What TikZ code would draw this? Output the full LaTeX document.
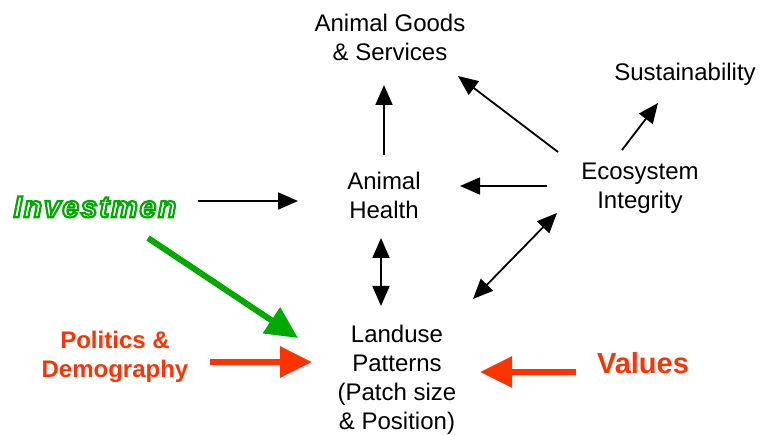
\documentclass[tikz,border=0pt]{standalone}
\usepackage{fontspec}
\setmainfont{Liberation Sans}
\usetikzlibrary{arrows.meta}
\definecolor{myred}{RGB}{255,51,0}
\definecolor{mygreen}{RGB}{0,170,0}
\newcommand{\outlinetext}[1]{\special{pdf:literal direct 1 Tr 2.2 w}#1\special{pdf:literal direct 0 Tr}}
\tikzset{
  lbl/.style={align=center, inner sep=0pt, font=\fontsize{24}{29}\selectfont},
  redlbl/.style={align=center, inner sep=0pt, text=myred, font=\bfseries\fontsize{24}{29}\selectfont},
  arr/.style={line width=1.8pt, -{Triangle[length=20pt,width=17pt]}},
  dbl/.style={line width=1.8pt, {Triangle[length=20pt,width=17pt]}-{Triangle[length=20pt,width=17pt]}},
  greenarr/.style={line width=6pt, draw=mygreen, -{Triangle[length=32pt,width=30pt,fill=mygreen]}},
  redarr/.style={line width=6pt, draw=myred, -{Triangle[length=32pt,width=30pt,fill=myred]}}
}
\begin{document}
\begin{tikzpicture}[x=1pt,y=-1pt]
\useasboundingbox (0,0) rectangle (760,435);
\node[lbl] (goods) at (390,37) {Animal Goods\\\& Services};
\node[lbl] (sust) at (685,74) {Sustainability};
\node[lbl] (health) at (384,195) {Animal\\Health};
\node[lbl] (eco) at (640,188) {Ecosystem\\Integrity};
\node[lbl] (land) at (397,380) {Landuse\\Patterns\\(Patch size\\\& Position)};
\node[redlbl] (pol) at (115,357) {Politics \&\\Demography};
\node[redlbl, font=\bfseries\fontsize{29}{34}\selectfont] (val) at (643,363) {Values};
\node[inner sep=0pt, text=mygreen, font=\bfseries\itshape\fontsize{30}{35}\selectfont\addfontfeatures{LetterSpace=6}] (inv) at (95,207) {\outlinetext{Investmen}};
% black arrows
\draw[arr] ([shift={(0,-40)}]health.center) -- ([shift={(-6,48)}]goods.center);
\draw[arr] ([shift={(-82,-36)}]eco.center) -- ([shift={(68,39)}]goods.center);
\draw[arr] ([shift={(-18,-38)}]eco.center) -- ([shift={(-27,29)}]sust.center);
\draw[arr] ([shift={(-93,-2)}]eco.center) -- ([shift={(76,-9)}]health.center);
\draw[arr] ([shift={(103,-6)}]inv.center) -- ([shift={(-86,6)}]health.center);
\draw[dbl] ([shift={(-3,43)}]health.center) -- ([shift={(-16,-74)}]land.center);
\draw[dbl] ([shift={(76,-81)}]land.center) -- ([shift={(-83,25)}]eco.center);
% thick coloured arrows
\draw[greenarr] ([shift={(53,31)}]inv.center) -- ([shift={(-99,-42)}]land.center);
\draw[redarr] ([shift={(95,5)}]pol.center) -- ([shift={(-85,-18)}]land.center);
\draw[redarr] ([shift={(-67,9)}]val.center) -- ([shift={(83,-8)}]land.center);
\end{tikzpicture}
\end{document}
